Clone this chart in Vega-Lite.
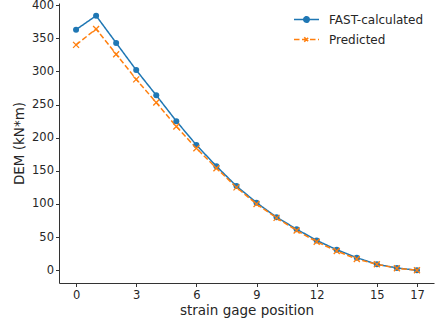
{
  "$schema": "https://vega.github.io/schema/vega-lite/v6.json",
  "width": 375,
  "height": 280,
  "autosize": "none",
  "padding": {"left": 59, "top": 3, "right": 2, "bottom": 41},
  "background": "white",
  "config": {
    "font": "DejaVu Sans",
    "view": {"stroke": null},
    "axis": {
      "grid": false,
      "domainColor": "#333333",
      "tickColor": "#333333",
      "tickSize": 3.5,
      "labelFontSize": 11.5,
      "labelColor": "#262626",
      "titleFontSize": 13.5,
      "titleFontWeight": "normal",
      "titleColor": "#262626",
      "labelFont": "DejaVu Sans",
      "titleFont": "DejaVu Sans"
    }
  },
  "data": {
    "values": [
      {"pos": 0, "series": "FAST-calculated", "dem": 363},
      {"pos": 1, "series": "FAST-calculated", "dem": 384},
      {"pos": 2, "series": "FAST-calculated", "dem": 343},
      {"pos": 3, "series": "FAST-calculated", "dem": 302},
      {"pos": 4, "series": "FAST-calculated", "dem": 264},
      {"pos": 5, "series": "FAST-calculated", "dem": 225},
      {"pos": 6, "series": "FAST-calculated", "dem": 189},
      {"pos": 7, "series": "FAST-calculated", "dem": 157},
      {"pos": 8, "series": "FAST-calculated", "dem": 127},
      {"pos": 9, "series": "FAST-calculated", "dem": 102},
      {"pos": 10, "series": "FAST-calculated", "dem": 80},
      {"pos": 11, "series": "FAST-calculated", "dem": 62},
      {"pos": 12, "series": "FAST-calculated", "dem": 45},
      {"pos": 13, "series": "FAST-calculated", "dem": 31},
      {"pos": 14, "series": "FAST-calculated", "dem": 19},
      {"pos": 15, "series": "FAST-calculated", "dem": 9},
      {"pos": 16, "series": "FAST-calculated", "dem": 3.5},
      {"pos": 17, "series": "FAST-calculated", "dem": 0},
      {"pos": 0, "series": "Predicted", "dem": 340},
      {"pos": 1, "series": "Predicted", "dem": 364},
      {"pos": 2, "series": "Predicted", "dem": 326},
      {"pos": 3, "series": "Predicted", "dem": 288},
      {"pos": 4, "series": "Predicted", "dem": 253},
      {"pos": 5, "series": "Predicted", "dem": 217},
      {"pos": 6, "series": "Predicted", "dem": 184},
      {"pos": 7, "series": "Predicted", "dem": 154},
      {"pos": 8, "series": "Predicted", "dem": 125},
      {"pos": 9, "series": "Predicted", "dem": 100},
      {"pos": 10, "series": "Predicted", "dem": 79},
      {"pos": 11, "series": "Predicted", "dem": 60},
      {"pos": 12, "series": "Predicted", "dem": 43},
      {"pos": 13, "series": "Predicted", "dem": 29},
      {"pos": 14, "series": "Predicted", "dem": 17},
      {"pos": 15, "series": "Predicted", "dem": 9},
      {"pos": 16, "series": "Predicted", "dem": 3},
      {"pos": 17, "series": "Predicted", "dem": 0}
    ]
  },
  "encoding": {
    "x": {
      "field": "pos", "type": "quantitative",
      "scale": {"domain": [-0.85, 17.85], "nice": false, "zero": false},
      "axis": {"values": [0, 3, 6, 9, 12, 15, 17], "title": "strain gage position", "titlePadding": 2, "labelPadding": 3}
    },
    "y": {
      "field": "dem", "type": "quantitative",
      "scale": {"domain": [-19.2, 403.2], "nice": false, "zero": false},
      "axis": {"values": [0, 50, 100, 150, 200, 250, 300, 350, 400], "title": "DEM (kN*m)", "titlePadding": 5, "labelPadding": 2}
    },
    "color": {
      "field": "series", "type": "nominal",
      "scale": {"domain": ["FAST-calculated", "Predicted"], "range": ["#1f77b4", "#ff7f0e"]},
      "legend": {
        "title": null,
        "orient": "none",
        "legendX": 234,
        "legendY": 3,
        "labelFontSize": 12,
        "labelColor": "#262626",
        "labelFont": "DejaVu Sans",
        "symbolType": "stroke",
        "symbolSize": 625,
        "symbolStrokeWidth": 1.5,
        "labelOffset": 9,
        "rowPadding": -11,
        "encode": {
          "symbols": {
            "update": {
              "shape": {"signal": "datum.value === 'FAST-calculated' ? 'M-1,0L1,0M0.22,0A0.22,0.22 0 1,1 -0.22,0A0.22,0.22 0 1,1 0.22,0Z' : 'M-1,0L1,0M-0.18,-0.18L0.18,0.18M-0.18,0.18L0.18,-0.18'"},
              "strokeDash": {"signal": "datum.value === 'FAST-calculated' ? [1,0] : [4.5,2.2]"},
              "fill": {"signal": "datum.value === 'FAST-calculated' ? '#1f77b4' : 'transparent'"},
              "fillOpacity": {"value": 1},
              "stroke": {"signal": "datum.value === 'FAST-calculated' ? '#1f77b4' : '#ff7f0e'"}
            }
          }
        }
      }
    }
  },
  "layer": [
    {
      "mark": {"type": "line", "strokeWidth": 1.5},
      "encoding": {
        "strokeDash": {
          "field": "series", "type": "nominal",
          "scale": {"domain": ["FAST-calculated", "Predicted"], "range": [[1, 0], [5.5, 2.5]]},
          "legend": null
        }
      }
    },
    {
      "transform": [{"filter": "datum.series === 'FAST-calculated'"}],
      "mark": {"type": "point", "filled": true, "size": 36, "opacity": 1, "shape": "circle"}
    },
    {
      "transform": [{"filter": "datum.series === 'Predicted'"}],
      "mark": {"type": "point", "filled": false, "size": 36, "opacity": 1, "strokeWidth": 1.3, "shape": "M-1,-1L1,1M-1,1L1,-1"}
    }
  ]
}
